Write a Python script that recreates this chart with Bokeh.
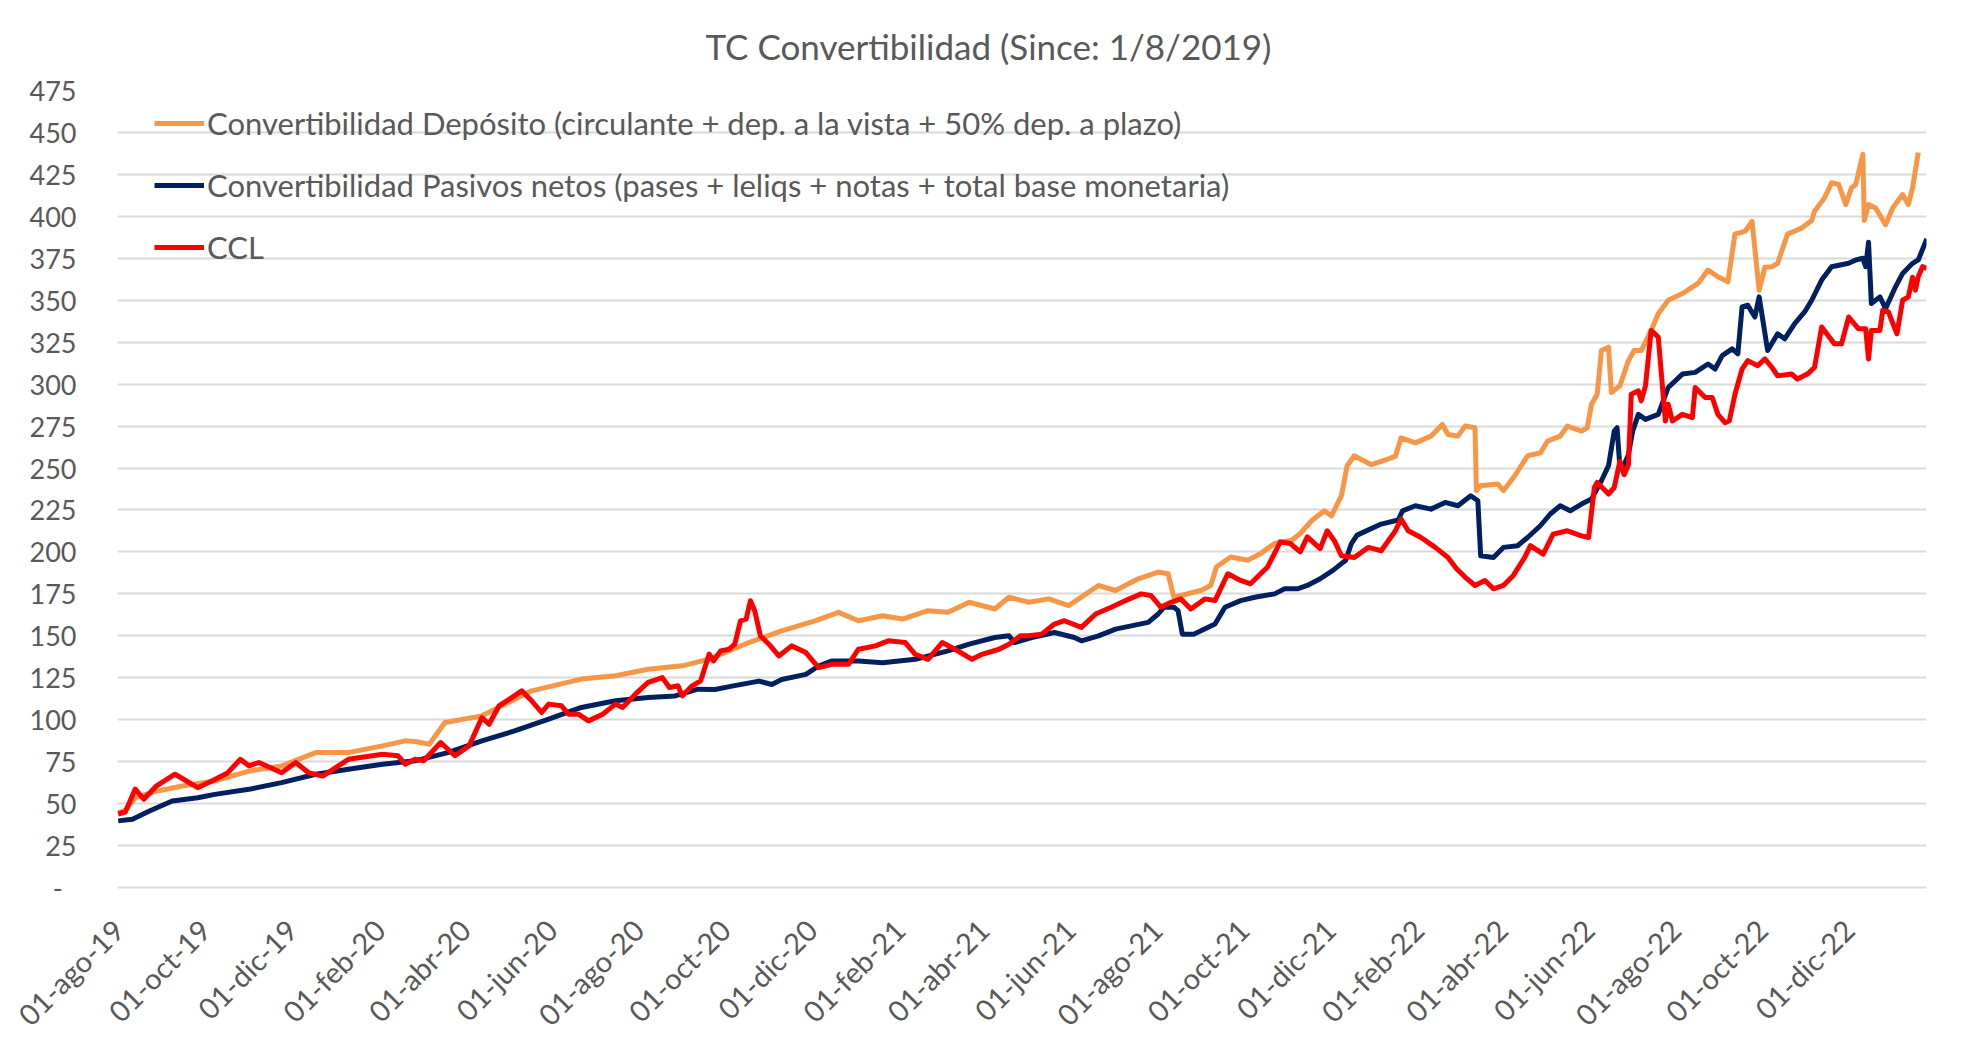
import math
import pandas as pd
from bokeh.plotting import figure
from bokeh.models import Range1d, FixedTicker, Legend, LegendItem
from bokeh.embed import file_html
from bokeh.resources import INLINE

# ---------------- data ----------------
start_date = "2019-08-01"
title_text = "TC Convertibilidad (Since: 1/8/2019)"

name_dep = "Convertibilidad Depósito (circulante + dep. a la vista + 50% dep. a plazo)"
name_pas = "Convertibilidad Pasivos netos (pases + leliqs + notas + total base monetaria)"
name_ccl = "CCL"

# days since start_date
dep_days = [0, 5, 12, 25, 45, 68, 92, 115, 139, 162, 186, 202, 209, 219, 230, 256, 291, 326, 350, 373,
            397, 416, 424, 444, 467, 491, 507, 521, 538, 552, 570, 584, 599, 617, 627, 641, 655, 669, 690, 702,
            718, 732, 739, 743, 748, 762, 769, 773, 783, 795, 804, 814, 826, 832, 840, 849, 854, 861, 865, 870,
            882, 889, 899, 903, 913, 924, 932, 936, 943, 948, 955, 956, 959, 971, 975, 983, 992, 1001, 1006, 1015,
            1020, 1030, 1034, 1037, 1041, 1044, 1049, 1051, 1057, 1063, 1067, 1072, 1079, 1084, 1091, 1101, 1112,
            1119, 1126, 1133, 1138, 1145, 1150, 1155, 1159, 1164, 1168, 1175, 1185, 1192, 1194, 1201, 1206, 1211,
            1216, 1220, 1223, 1228, 1229, 1232, 1237, 1244, 1249, 1256, 1260, 1263, 1267]
dep_vals = [44.6, 46, 53.5, 57, 60.5, 63.5, 69.4, 72.4, 80.4, 80.4, 84.4, 87.4, 87, 85.4, 98.3, 102.3, 117.2, 124.2, 126.2, 130.1,
            132.1, 136.1, 139, 146, 153, 159, 164, 159, 162, 160, 165, 164, 170, 166, 173, 170, 172, 168, 180, 177,
            184, 188, 187, 173, 174, 177, 180, 191, 197, 195, 199, 205, 207, 211, 218.6, 224.5, 221.5, 233.5, 251.4, 257.3,
            252, 254, 257, 268, 265, 269, 276, 270, 269, 275, 274, 236.5, 239.5, 240.5, 236.5, 245.4, 257.3, 259, 266, 269,
            275, 272, 274, 288, 294, 320, 322, 295, 299, 314, 320, 320, 332, 342, 350, 354, 360,
            368, 364, 361, 389.5, 391, 397, 356, 369.6, 370, 372, 389.5, 393, 397.5, 403, 411, 420, 419,
            407, 417, 419, 437, 397.5, 407, 405, 395, 405, 413, 407, 417, 438]

pas_days = [0, 10, 22, 38, 56, 68, 92, 115, 139, 162, 186, 209, 232, 256, 279, 303, 326, 350, 373, 392,
            408, 420, 432, 451, 460, 467, 484, 493, 502, 521, 538, 561, 584, 599, 617, 627, 631, 643, 659, 673,
            678, 690, 702, 725, 732, 736, 743, 746, 749, 757, 772, 779, 790, 800, 814, 821, 830, 837, 846, 855,
            864, 868, 872, 889, 901, 904, 913, 924, 934, 943, 952, 957, 959, 968, 975, 985, 992, 1001, 1008, 1015,
            1022, 1030, 1037, 1044, 1049, 1053, 1055, 1057, 1060, 1063, 1066, 1070, 1075, 1084, 1091, 1101, 1110,
            1119, 1124, 1129, 1136, 1140, 1143, 1147, 1152, 1155, 1161, 1168, 1173, 1180, 1187, 1192, 1199, 1206,
            1218, 1223, 1228, 1230, 1232, 1234, 1240, 1244, 1251, 1256, 1263, 1267, 1273]
pas_vals = [39.7, 40.7, 45.6, 51.6, 53.5, 55.5, 58.5, 62.5, 67.5, 70.5, 73.5, 75.5, 80.4, 87.4, 93.3, 100.3, 107.3, 111.3, 113.2, 114.2,
            118.2, 118, 120, 123, 121, 124, 127, 132, 135, 135, 134, 136, 141, 145, 149, 150, 146, 149, 152, 149,
            147, 150, 154, 158, 163, 167, 167, 165, 151, 151, 157, 167, 171, 173, 175, 178, 178, 180, 184, 189,
            195, 205, 210, 216.6, 219, 224.5, 227.5, 225.5, 229.5, 227.5, 233.5, 230.5, 197.7, 196.7, 202.7, 203.7, 208.6, 215.6, 222.6, 227.5,
            224.5, 228.5, 231.5, 242.4, 251.4, 272, 274, 250.4, 252, 258, 272, 282, 279, 282, 298, 306, 307,
            312, 309, 317, 321, 318, 346, 347, 340, 352, 320, 330, 327, 336, 343, 350, 362, 370,
            372, 374, 375, 370, 384.5, 348, 352, 345, 358, 366, 372, 374, 386.6]

ccl_days = [0, 5, 12, 18, 27, 40, 56, 68, 77, 86, 92, 99, 115, 125, 134, 144, 162, 186, 197, 202,
            209, 215, 227, 237, 247, 256, 261, 268, 277, 284, 291, 298, 303, 312, 317, 324, 331, 341, 350, 355,
            364, 373, 383, 388, 394, 397, 404, 410, 416, 419, 424, 430, 434, 438, 442, 445, 448, 452, 458, 465,
            474, 484, 493, 502, 514, 521, 533, 542, 554, 561, 570, 580, 589, 601, 608, 620, 627, 635, 641, 650,
            659, 666, 678, 688, 699, 709, 720, 727, 734, 741, 748, 755, 765, 772, 781, 790, 797, 809, 818, 825,
            832, 837, 846, 851, 856, 861, 870, 880, 889, 899, 903, 908, 917, 927, 936, 942, 948, 955, 962, 968,
            975, 982, 990, 994, 1003, 1010, 1020, 1030, 1035, 1039, 1041, 1049, 1053, 1057, 1060, 1063, 1065, 1070,
            1072, 1075, 1079, 1084, 1089, 1091, 1094, 1101, 1108, 1110, 1117, 1122, 1126, 1131, 1134, 1138, 1143,
            1147, 1154, 1159, 1164, 1168, 1178, 1182, 1189, 1194, 1199, 1208, 1213, 1218, 1225, 1230, 1232, 1234,
            1240, 1242, 1246, 1252, 1256, 1260, 1263, 1265, 1267, 1270, 1273]
ccl_vals = [43.8, 45, 58.7, 52.6, 60.6, 67.5, 59.5, 64.4, 68.3, 76.4, 72.5, 74.5, 68.4, 74.5, 68.4, 66.4, 76.4, 79.4, 78.5, 73.5,
            76.4, 75.5, 86.4, 78.5, 84.4, 101.3, 97.3, 108.2, 113.2, 117.2, 111.3, 104.3, 109.3, 108.3, 103.3, 103.3, 99.3, 103.3, 109.3, 107.3,
            115.2, 122.2, 125.1, 119.2, 120.2, 114.2, 120.2, 123.2, 139.1, 135, 141, 142, 145, 158.9, 160, 170.9, 165, 150, 145, 138,
            144, 140, 131, 133, 133, 142, 144, 147, 146, 139, 136, 146, 142, 136, 139, 142, 145, 150, 150, 151,
            157, 159, 155, 163, 167, 171, 175, 174, 167, 170, 172, 166, 172, 171, 187, 183, 181, 191, 206, 205,
            200, 209, 202, 212.6, 206.7, 197.7, 196.7, 202.7, 200.7, 212.6, 219.6, 212.6, 208.6, 202.7, 196.7, 190, 185, 180, 183, 178,
            180, 186, 196.7, 203.7, 198.7, 210.6, 212.6, 209.6, 208.6, 238.4, 241.4, 234.5, 238.4, 254, 246, 252, 294, 296,
            290, 299, 332, 328, 278, 288, 278, 282, 280, 298, 292, 292, 282, 277, 278, 294, 309,
            314, 311, 315, 310, 305, 306, 303, 306, 310, 334, 324, 324, 340, 333, 333, 315, 332,
            332, 344, 343, 330, 350, 352, 363.7, 356, 364, 370, 369]

y_ticks = [0, 25, 50, 75, 100, 125, 150, 175, 200, 225, 250, 275, 300, 325, 350, 375, 400, 425, 450, 475]
y_tick_labels = ["-\u00a0\u00a0", "25", "50", "75", "100", "125", "150", "175", "200", "225", "250", "275",
                 "300", "325", "350", "375", "400", "425", "450", "475"]

x_tick_dates = ["2019-08-01", "2019-10-01", "2019-12-01", "2020-02-01", "2020-04-01", "2020-06-01",
                "2020-08-01", "2020-10-01", "2020-12-01", "2021-02-01", "2021-04-01", "2021-06-01",
                "2021-08-01", "2021-10-01", "2021-12-01", "2022-02-01", "2022-04-01", "2022-06-01",
                "2022-08-01", "2022-10-01", "2022-12-01"]
x_tick_labels = ["01-ago-19", "01-oct-19", "01-dic-19", "01-feb-20", "01-abr-20", "01-jun-20",
                 "01-ago-20", "01-oct-20", "01-dic-20", "01-feb-21", "01-abr-21", "01-jun-21",
                 "01-ago-21", "01-oct-21", "01-dic-21", "01-feb-22", "01-abr-22", "01-jun-22",
                 "01-ago-22", "01-oct-22", "01-dic-22"]

assert len(dep_days) == len(dep_vals)
assert len(pas_days) == len(pas_vals)
assert len(ccl_days) == len(ccl_vals)

# ---------------- styling ----------------
FONT = "Lato"
TEXT = "#595959"
GRID = "#D9D9D9"
C_DEP = "#F79646"
C_PAS = "#002060"
C_CCL = "#FF0000"

W, H = 1958, 1049
BL, BR, BT, BB = 117, 32, 90, 162
FRAME_H = H - BT - BB

t0 = pd.Timestamp(start_date)
x_ticks = [int((pd.Timestamp(d) - t0).days) for d in x_tick_dates]

p = figure(width=W, height=H, output_backend="svg", toolbar_location=None,
           x_range=Range1d(-0.5, 1272.8), y_range=Range1d(0, 475),
           min_border_left=BL, min_border_right=BR, min_border_top=BT, min_border_bottom=BB)
p.background_fill_color = "white"
p.border_fill_color = "white"
p.outline_line_color = None

# title, centred over the whole chart area as in the source
p.title.text = title_text
p.title.text_font = FONT
p.title.text_font_size = "35px"
p.title.text_font_style = "normal"
p.title.text_color = TEXT
p.title.align = "left"
p.title.offset = 588
p.title.standoff = 45
p.title.vertical_align = "middle"

r_dep = p.line(dep_days, dep_vals, line_color=C_DEP, line_width=5, line_join="round")
r_pas = p.line(pas_days, pas_vals, line_color=C_PAS, line_width=5, line_join="round")
r_ccl = p.line(ccl_days, ccl_vals, line_color=C_CCL, line_width=5, line_join="round")

# axes
p.xaxis.ticker = FixedTicker(ticks=x_ticks)
p.xaxis.major_label_overrides = {t: l for t, l in zip(x_ticks, x_tick_labels)}
p.xaxis.major_label_orientation = math.pi / 4
p.xaxis.major_label_text_font = FONT
p.xaxis.major_label_text_font_size = "29px"
p.xaxis.major_label_text_color = TEXT
p.xaxis.major_label_standoff = 31
p.xaxis.axis_line_color = GRID
p.xaxis.axis_line_width = 2
p.xaxis.major_tick_line_color = None
p.xaxis.minor_tick_line_color = None

p.yaxis.ticker = FixedTicker(ticks=y_ticks)
p.yaxis.major_label_overrides = {t: l for t, l in zip(y_ticks, y_tick_labels)}
p.yaxis.major_label_text_font = FONT
p.yaxis.major_label_text_font_size = "27px"
p.yaxis.major_label_text_color = TEXT
p.yaxis.major_label_standoff = 35
p.yaxis.axis_line_color = None
p.yaxis.major_tick_line_color = None
p.yaxis.minor_tick_line_color = None

p.xgrid.grid_line_color = None
p.ygrid.grid_line_color = GRID
p.ygrid.grid_line_width = 2

ROW = 62
legend = Legend(items=[LegendItem(label=name_dep, renderers=[r_dep]),
                       LegendItem(label=name_pas, renderers=[r_pas]),
                       LegendItem(label=name_ccl, renderers=[r_ccl])],
                location=(37, FRAME_H - 2 - 3 * ROW), orientation="vertical",
                glyph_width=50, glyph_height=ROW, spacing=0, padding=0, margin=0,
                label_standoff=3, label_text_font=FONT, label_text_font_size="31px",
                label_text_color=TEXT, border_line_color=None, background_fill_alpha=0)
p.add_layout(legend, "center")

open("out.html", "w").write(file_html(p, INLINE))
